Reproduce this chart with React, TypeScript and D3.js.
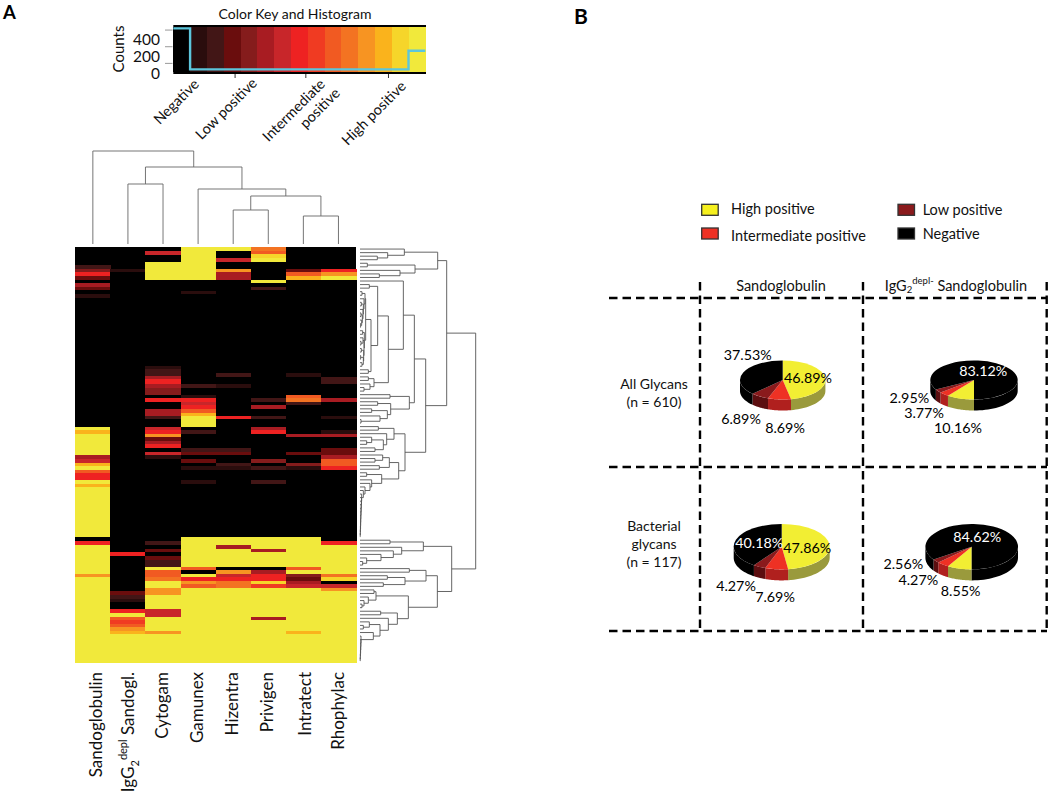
import React from "react";
import * as d3 from "d3";

// ---------- Heatmap data ----------
const columns = ["Sandoglobulin", "IgG2 depl Sandogl.", "Cytogam", "Gamunex", "Hizentra", "Privigen", "Intratect", "Rhophylac"];
const rowCount = 117;
const palette = ["#040404", "#2a0a0c", "#431212", "#6b0f0f", "#851a1c", "#a81e22", "#c8252b", "#ee2024", "#f03b24", "#f15a24", "#f37324", "#f79420", "#fab31e", "#f6d52a", "#f1e93b"];

// each entry: [first row, colour level]; a band lasts until the next entry
const colSandoglobulin = [[5.1,2],[6.1,4],[7,7],[8.1,3],[9.1,0],[10.1,5],[11.2,3],[12.1,0],[13.1,1],[14.2,0],[50.5,14],[51.5,12],[52.6,14],[58.5,5],[59.6,6],[60.7,12],[61.6,14],[62.6,9],[63.6,7],[65.6,14],[66.6,12],[67.6,14],[81.7,0],[82.8,7],[83.9,14],[92,11],[93,14]];
const colDepleted = [[6.1,1],[7,0],[85.8,7],[86.9,0],[96.9,3],[98,2],[99,1],[100,0],[102,7],[103,14],[104,9],[105.1,8],[106,9],[107,11],[108,12],[109,14]];
const colCytogam = [[1.03,6],[2.2,0],[4,14],[9.1,0],[33.4,1],[34.4,2],[36.2,5],[37.2,7],[38.5,5],[39.5,4],[41.5,0],[42.4,7],[43.5,0],[45.5,5],[47.5,2],[48.5,0],[50.5,6],[51.5,7],[52.6,11],[53.5,3],[54.6,5],[55.5,7],[56.6,0],[57.6,6],[58.5,1],[59.5,0],[82.8,2],[83.9,0],[84.9,3],[85.8,0],[86.9,3],[88,2],[90,14],[91,9],[93,10],[93.9,14],[96,11],[98,14],[102,6],[104,14],[108,11],[109,14]];
const colGamunex = [[0,14],[9.1,0],[12.2,1],[13.1,0],[38.5,2],[39.5,0],[41.5,1],[42.4,7],[43.5,6],[44.5,7],[45.5,9],[46.6,12],[47.5,14],[50.5,0],[51.5,2],[52.6,0],[56.6,2],[57.6,3],[58.5,0],[59.6,3],[60.7,0],[61.6,1],[62.6,0],[65.6,1],[66.6,0],[81.7,14],[90,9],[91,0],[92,14],[93,7],[93.9,11],[94.9,9],[96,14]];
const colHizentra = [[0,14],[1.03,0],[3,6],[4,0],[6.1,11],[7,5],[9.1,0],[35.5,2],[36.4,0],[38.5,1],[39.5,0],[47.5,7],[48.5,0],[56.6,2],[57.6,3],[58.5,0],[60.7,2],[61.6,1],[62.6,0],[81.7,14],[83.9,5],[84.9,14],[90,0],[91,11],[92,6],[93,7],[93.9,10],[96,14]];
const colPrivigen = [[0,10],[1,9],[2,13],[3,14],[4,0],[9.1,14],[10.1,0],[11.2,2],[12.1,0],[42.4,2],[43.5,0],[44.5,5],[45.5,0],[47.5,2],[48.5,0],[50.5,5],[51.5,7],[52.6,0],[59.6,4],[60.7,0],[61.6,2],[62.6,0],[65.6,2],[66.6,0],[81.7,14],[84.9,5],[85.8,14],[90,0],[91,5],[92,7],[93.9,13],[94.9,8],[96,14],[104,5],[105.1,14]];
const colIntratect = [[6.1,3],[7,9],[8.1,12],[9.1,0],[35.5,1],[36.4,0],[41.5,9],[42.4,10],[43.5,2],[44.5,0],[52.6,5],[53.5,0],[57.6,3],[58.5,0],[60.7,4],[61.6,1],[62.6,0],[81.7,14],[90,9],[91,14],[92,4],[93,3],[93.9,5],[94.9,6],[96,14],[108,12],[109,14]];
const colRhophylac = [[6.1,7],[7,11],[8.1,14],[9.1,0],[36.4,2],[38.5,0],[42.4,5],[43.5,0],[47.5,1],[48.5,0],[51.5,1],[52.6,5],[53.5,0],[56.6,3],[58.5,5],[59.6,9],[60.7,9],[61.6,7],[62.6,0],[82.8,7],[83.9,14],[92,10],[93,13],[93.9,0],[94.9,6],[96,11],[96.9,14]];
const bands = [colSandoglobulin, colDepleted, colCytogam, colGamunex, colHizentra, colPrivigen, colIntratect, colRhophylac];

// ---------- Dendrograms: [height, child, child]; 0 is a leaf ----------
const colTree = [93, 0, [77, [60, 0, 0], [55, 0, [48, [34, 0, 0], [28, 0, 0]]]]];

const denseRows = [17,
  [15, [6, 0, 0], [12, 0, [10, [4, 0, 0], [9, 0, [7, [3, 0, 0], [5, 0, [2, 0, 0]]]]]]],
  [13, [8, 0, 0], [12, [9, 0, [3, 0, 0]], [11, [4, 0, 0], [10, [2, 0, 0], [6, 0, 0]]]]]];
const ladderA = [5,0,[4.5,0,[4,0,[3.5,0,[3,0,[2.6,0,[2.2,0,[1.9,0,[1.6,0,[1.3,0,[1,0,[0.7,0,0]]]]]]]]]]]];
const ladderB = [3,0,[2.6,0,[2.2,0,[1.8,0,[1.4,0,[1,0,[0.6,0,0]]]]]]];
const rowTree = [347,
  [260,
    [233, [133, 0, [83, 0, [52, 0, 0]]], [165, [22, 0, 0], [120, 0, [58, 0, 0]]]],
    [197,
      [163,
        [130, 0, [85,
          [53, [28, 0, 0], [33, denseRows, [25, 0, 0]]],
          [42, [25, 0, 0], [30, 0, [12, 0, 0]]]]],
        [148, [90, 0, 0], [92, [53, 0, 0], [82, [35, 0, 0], [60, 0, [3, 0, 0]]]]]],
      [135,
        [102, [55, 0, 0], [80, 0, [70, [35, 0, [20, 0, 0]], [45, 0, 0]]]],
        [116,
          [88, [68, 0, [45, 0, 0]], [58, 0, 0]],
          [65, [20, 0, 0], [35, 0, [30, 0, [15, 0, [10, 0, ladderA]]]]]]]]],
  [275,
    [190, [90, 0, 0], [125, 0, [100, 0, [63, 0, [20, 0, [8, 0, 0]]]]]],
    [232,
      [198, [148, 0, 0], [135, [82, 0, 0], [70, 0, 0]]],
      [145,
        [48, [42, 0, 0], [25, 0, [12, 0, [6, 0, 0]]]],
        [112, [62, 0, 0], [85, 0, [60, [28, 0, [10, 0, 0]], [40, 0, ladderB]]]]]]]];

// ---------- Colour key ----------
const keyLevels = d3.range(15);
const histCounts = [520, 28, 28, 28, 28, 28, 28, 28, 28, 28, 28, 28, 28, 28, 252];
const countLabels = [400, 200, 0];
const countTicks = [500, 300, 100];
const keyTickPositions = [0.2445, 0.5245, 0.8515];

// ---------- Pies ----------
const pieColors = ["#f2ee33", "#ee3124", "#8a1a1c", "#000000"];
const sideColors = ["#9a9a3c", "#b0201e", "#5c0e10", "#000000"];
const legendItems = [
  { label: "High positive", fill: "#f6f01e", col: 0, row: 0 },
  { label: "Intermediate positive", fill: "#ee3124", col: 0, row: 1 },
  { label: "Low positive", fill: "#8a1a1c", col: 1, row: 0 },
  { label: "Negative", fill: "#000000", col: 1, row: 1 },
];
const pieAllSando = [46.89, 8.69, 6.89, 37.53];
const pieAllDepl = [10.16, 3.77, 2.95, 83.12];
const pieBactSando = [47.86, 7.69, 4.27, 40.18];
const pieBactDepl = [8.55, 4.27, 2.56, 84.62];

const FONT = "Lato, 'Open Sans', sans-serif";
const pieSpecs = [
  { v: pieAllSando, cx: 782.7, cy: 380, rx: 42.7, ry: 19.5, start: 0,
    labels: [[808, 377.7, "#000"], [785, 427, "#000"], [741, 418, "#000"], [747.7, 354.3, "#000"]] },
  { v: pieAllDepl, cx: 974, cy: 380, rx: 43.7, ry: 19.5, start: Math.PI,
    labels: [[958, 427.3, "#000"], [924, 412.3, "#000"], [909.3, 397.3, "#000"], [983.3, 370.7, "#fff"]] },
  { v: pieBactSando, cx: 781.7, cy: 546.7, rx: 48, ry: 22.7, start: 0,
    labels: [[807.3, 547.7, "#000"], [775, 596.7, "#000"], [736, 585.7, "#000"], [759.3, 542.3, "#fff"]] },
  { v: pieBactDepl, cx: 971.7, cy: 546.7, rx: 46.3, ry: 22.7, start: Math.PI,
    labels: [[960.7, 590.7, "#000"], [918.3, 579.3, "#000"], [903.3, 563.3, "#000"], [977.3, 536, "#fff"]] },
];

function dendrogram(tree: any, leafPos: (i: number) => number) {
  const root = d3.hierarchy(tree, (n: any) => (Array.isArray(n) ? n.slice(1) : null));
  root.leaves().forEach((l: any, i: number) => { l.pos = leafPos(i); });
  root.eachAfter((n: any) => {
    if (n.children) n.pos = (n.children[0].pos + n.children[1].pos) / 2;
    n.h = n.children ? n.data[0] : 0;
  });
  return root.descendants().filter((n: any) => n.children) as any[];
}

function PieChart({ spec }: { spec: any }) {
  const { v, cx, cy, rx, ry, start } = spec;
  const slices = d3.pie<number>().sort(null).startAngle(start).endAngle(start + 2 * Math.PI)(v);
  const depth = 11;
  const arc = d3.arc<any>().innerRadius(0).outerRadius(1);
  const pt = (a: number) => [cx + rx * Math.sin(a), cy - ry * Math.cos(a)] as [number, number];
  const sides: { d: string; fill: string }[] = [];
  slices.forEach((s, i) => {
    [[Math.PI / 2, 1.5 * Math.PI], [2.5 * Math.PI, 3.5 * Math.PI]].forEach(([lo, hi]) => {
      const a0 = Math.max(s.startAngle, lo);
      const a1 = Math.min(s.endAngle, hi);
      if (a1 <= a0) return;
      const angles = d3.range(0, 25).map((k) => a0 + ((a1 - a0) * k) / 24);
      const upper = angles.map(pt);
      const lower = angles.slice().reverse().map(pt).map(([x, y]) => [x, y + depth] as [number, number]);
      sides.push({ d: (d3.line()([...upper, ...lower]) as string) + "Z", fill: sideColors[i] });
    });
  });
  return (
    <g>
      {sides.map((s, i) => <path key={i} d={s.d} fill={s.fill} />)}
      <g transform={`translate(${cx},${cy}) scale(${rx},${ry})`}>
        {slices.map((s, i) => <path key={i} d={arc(s) as string} fill={pieColors[i]} />)}
      </g>
      {v.map((val: number, i: number) => (
        <text key={i} x={spec.labels[i][0]} y={spec.labels[i][1]} fill={spec.labels[i][2]} fontSize={14.3} textAnchor="middle" dominantBaseline="central">
          {val.toFixed(2)}%
        </text>
      ))}
    </g>
  );
}

export default function App() {
  const xBand = d3.scaleBand<number>().domain(d3.range(columns.length)).range([75.3, 356]);
  const yRow = d3.scaleLinear().domain([0, rowCount]).range([247.3, 662.7]);

  const colNodes = dendrogram(colTree, (i) => xBand(i)! + xBand.bandwidth() / 2);
  const colH = d3.scaleLinear().domain([0, 93]).range([244, 151]);
  const rowNodes = dendrogram(rowTree, (i) => yRow(i + 0.5));
  const rowH = d3.scaleLinear().domain([0, 347]).range([360, 475.7]);

  const colPath = d3.path();
  colNodes.forEach((n) => {
    const [a, b] = n.children;
    colPath.moveTo(a.pos, colH(a.h));
    colPath.lineTo(a.pos, colH(n.h));
    colPath.lineTo(b.pos, colH(n.h));
    colPath.lineTo(b.pos, colH(b.h));
  });
  const rowPath = d3.path();
  rowNodes.forEach((n) => {
    const [a, b] = n.children;
    rowPath.moveTo(rowH(a.h), a.pos);
    rowPath.lineTo(rowH(n.h), a.pos);
    rowPath.lineTo(rowH(n.h), b.pos);
    rowPath.lineTo(rowH(b.h), b.pos);
  });

  // colour key
  const keyX = d3.scaleLinear().domain([0, keyLevels.length]).range([173.3, 425.3]);
  const keyY = d3.scaleLinear().domain([0, 400]).range([71.7, 38.4]);
  const histLine = d3.line<number>()
    .x((_, i) => keyX(i))
    .y((c) => keyY(c))
    .curve(d3.curveStepAfter);
  const histPath = histLine([...histCounts, histCounts[histCounts.length - 1]]) as string;

  return (
    <svg width={1050} height={792} style={{ position: "absolute", left: 0, top: 0 }} fontFamily={FONT}>
      <defs>
        <filter id="soft" x="-2%" y="-2%" width="104%" height="104%">
          <feGaussianBlur stdDeviation="0.45" />
        </filter>
        <filter id="softLine" x="-2%" y="-2%" width="104%" height="104%">
          <feGaussianBlur stdDeviation="0.3" />
        </filter>
      </defs>
      <rect width={1050} height={792} fill="#fff" />

      <text x={3} y={19} fontSize={18.5} fontWeight={700} fill="#000">A</text>
      <text x={574} y={24} fontSize={21} fontWeight={700} fill="#000">B</text>

      {/* colour key */}
      <text x={295} y={19} fontSize={14} textAnchor="middle" fill="#111">Color Key and Histogram</text>
      <rect x={173.3} y={25} width={252.7} height={49} fill="#000" />
      <g filter="url(#soft)" shapeRendering="crispEdges">
        {keyLevels.map((l) => (
          <rect key={l} x={keyX(l)} y={27} width={keyX(1) - keyX(0) + 0.5} height={45} fill={palette[l]} />
        ))}
      </g>
      <path d={histPath} fill="none" stroke="#5cc6dc" strokeWidth={2.4} />
      {countTicks.map((c) => (
        <line key={c} x1={165} x2={172.5} y1={keyY(c)} y2={keyY(c)} stroke="#999" />
      ))}
      {countLabels.map((c) => (
        <text key={c} x={160} y={keyY(c) + 1} fontSize={15.5} textAnchor="end" dominantBaseline="central" fill="#111">{c}</text>
      ))}
      <text transform="translate(124,49) rotate(-90)" fontSize={15} textAnchor="middle" fill="#111">Counts</text>
      {keyTickPositions.map((t) => (
        <line key={t} x1={173.3 + 252.7 * t} x2={173.3 + 252.7 * t} y1={74} y2={78} stroke="#333" />
      ))}
      <g fontSize={14.5} textAnchor="end" fill="#111">
        <text transform="translate(200,85) rotate(-45)">Negative</text>
        <text transform="translate(258,84) rotate(-45)">Low positive</text>
        <text transform="translate(326,85) rotate(-45)">Intermediate</text>
        <text transform="translate(341,94) rotate(-45)">positive</text>
        <text transform="translate(407,87) rotate(-45)">High positive</text>
      </g>

      {/* dendrograms */}
      <path d={colPath.toString()} fill="none" stroke="#666" strokeWidth={0.9} filter="url(#softLine)" />
      <path d={rowPath.toString()} fill="none" stroke="#555" strokeWidth={0.9} filter="url(#softLine)" />

      {/* heatmap */}
      <g filter="url(#soft)" shapeRendering="crispEdges">
        <rect x={75.3} y={yRow(0)} width={280.7} height={yRow(rowCount) - yRow(0)} fill={palette[0]} />
        {bands.map((runs, c) =>
          runs.map(([start, level], i) => {
            const end = i + 1 < runs.length ? runs[i + 1][0] : rowCount;
            return (
              <rect key={`${c}-${i}`} x={xBand(c)!} y={yRow(start)} width={xBand.bandwidth() + 0.6}
                height={yRow(end) - yRow(start) + 0.3} fill={palette[level]} />
            );
          })
        )}
      </g>

      {/* column labels */}
      <g fontSize={17} textAnchor="end" fill="#111">
        {[101.7, null, 168, 203, 238, 273, 310.7, 344].map((x, i) =>
          x === null ? null : (
            <text key={i} transform={`translate(${x},672) rotate(-90)`}>{columns[i]}</text>
          )
        )}
        <text transform="translate(134,672) rotate(-90)">
          <tspan>IgG</tspan>
          <tspan fontSize={11} dy={5}>2</tspan>
          <tspan fontSize={11} dy={-12}>depl</tspan>
          <tspan dy={7}> Sandogl.</tspan>
        </text>
      </g>

      {/* panel B legend */}
      {legendItems.map((it) => {
        const sx = it.col === 0 ? 701.7 : 898;
        const sy = it.row === 0 ? 204.3 : 228;
        const tx = it.col === 0 ? 731 : 922.7;
        const ty = it.col === 0 ? (it.row === 0 ? 208 : 235) : (it.row === 0 ? 209 : 233);
        return (
          <g key={it.label}>
            <rect x={sx} y={sy} width={16.5} height={11} fill={it.fill} stroke="#333" strokeWidth={1.3} />
            <text x={tx} y={ty} fontSize={14.5} dominantBaseline="central" fill="#111">{it.label}</text>
          </g>
        );
      })}

      {/* panel B grid */}
      <g stroke="#000" strokeWidth={2.4} strokeDasharray="8.5 5">
        {[298, 467, 631].map((y) => <line key={y} x1={609} x2={1047} y1={y} y2={y} />)}
        {[700, 863, 1046.7].map((x) => <line key={x} x1={x} x2={x} y1={282} y2={631} />)}
      </g>
      <text x={781} y={285} fontSize={14.5} textAnchor="middle" dominantBaseline="central" fill="#111">Sandoglobulin</text>
      <text x={956} y={285} fontSize={14.5} textAnchor="middle" dominantBaseline="central" fill="#111">
        <tspan>IgG</tspan>
        <tspan fontSize={9.5} dy={4}>2</tspan>
        <tspan fontSize={9.5} dy={-9}>depl-</tspan>
        <tspan dy={5}> Sandoglobulin</tspan>
      </text>
      <g fontSize={14} textAnchor="middle" fill="#111">
        <text x={654} y={389}>All Glycans</text>
        <text x={654} y={407}>(n = 610)</text>
        <text x={654} y={531}>Bacterial</text>
        <text x={654} y={549}>glycans</text>
        <text x={654} y={567}>(n = 117)</text>
      </g>

      {pieSpecs.map((s, i) => <PieChart key={i} spec={s} />)}
    </svg>
  );
}
